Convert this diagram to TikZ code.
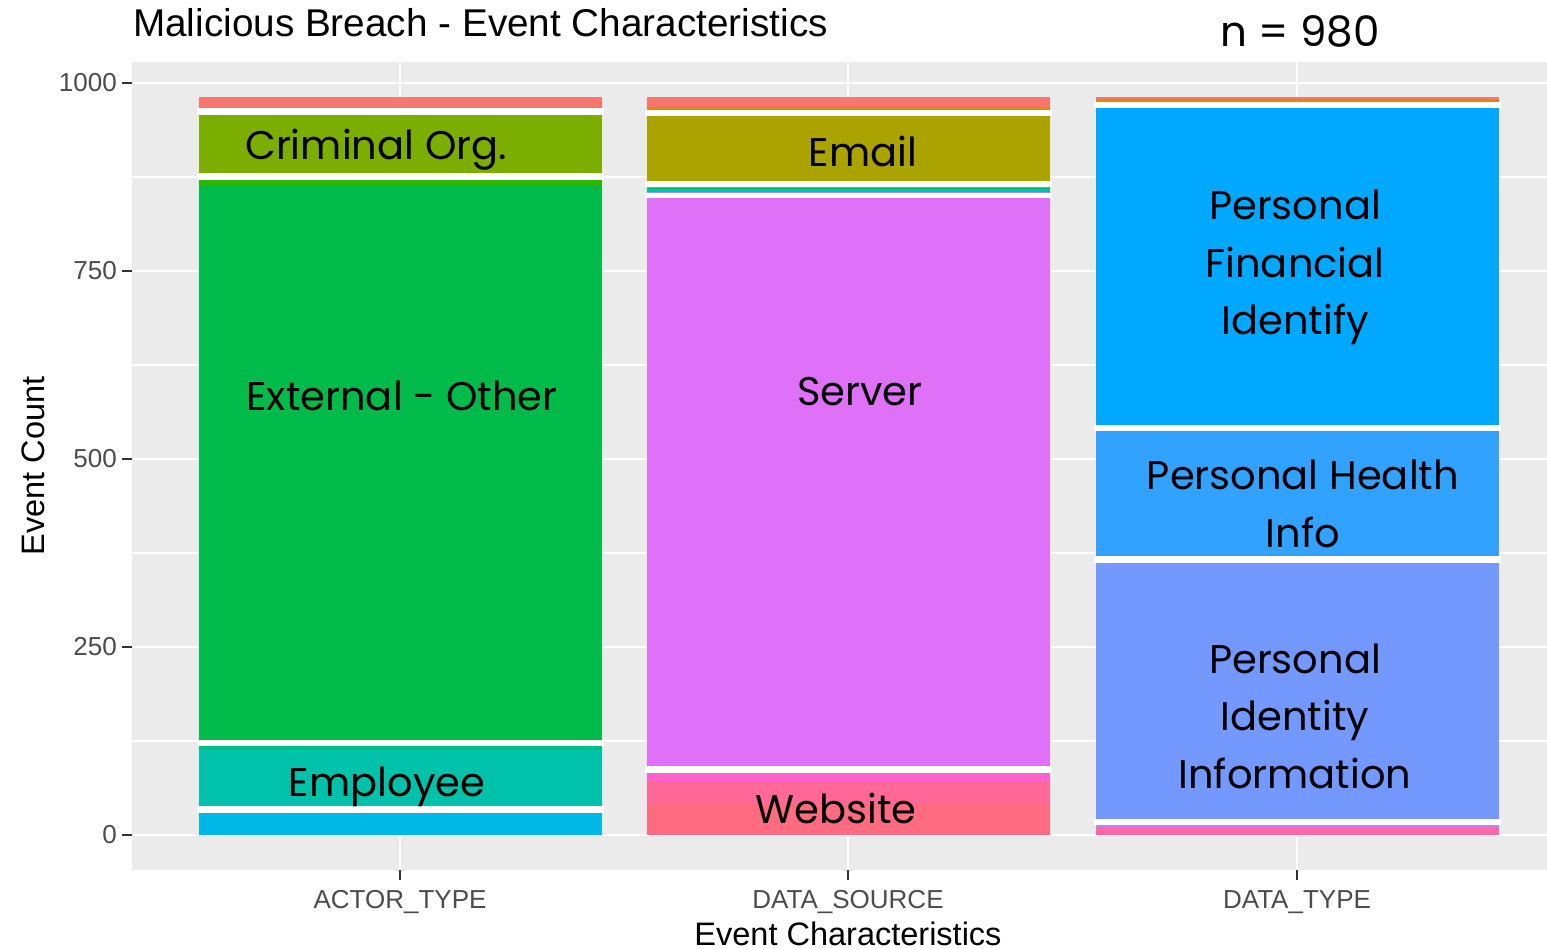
\documentclass[tikz,border=0pt]{standalone}
\usepackage{fontspec}
\setmainfont{Liberation Sans}
\newfontfamily\labfont{Poppins}
\begin{document}
\begin{tikzpicture}[x=1pt,y=-1pt,
  axtext/.style={text=black!70,font=\fontsize{26}{30}\selectfont,inner sep=0pt},
  bartext/.style={text=black,font=\labfont\fontsize{40}{57.5}\selectfont,align=center,inner sep=0pt},
  sep/.style={fill=white},
  majorgrid/.style={draw=white,line width=2.2pt},
  minorgrid/.style={draw=white,line width=1.1pt},
  tickmark/.style={draw=black!80,line width=1.6pt}]
\definecolor{panelbg}{HTML}{EBEBEB}
\useasboundingbox (0,0) rectangle (1547,949);
\fill[white] (0,0) rectangle (1547,949);
% panel
\fill[panelbg] (132,62) rectangle (1547,870);
\foreach \yy in {177,365,553,741} \draw[minorgrid] (132,\yy) -- (1547,\yy);
\foreach \yy in {83,271,459,647,835} \draw[majorgrid] (132,\yy) -- (1547,\yy);
\foreach \xx in {400,848,1297} \draw[majorgrid] (\xx,62) -- (\xx,870);
% ---- ACTOR_TYPE bar
\def\xa{198.5}\def\xb{601.5}
\fill[fill={rgb,255:red,248;green,118;blue,109}] (\xa,97) rectangle (\xb,108.5);
\fill[fill={rgb,255:red,124;green,174;blue,0}] (\xa,115) rectangle (\xb,173.5);
\fill[fill={rgb,255:red,45;green,182;blue,0}] (\xa,180) rectangle (\xb,186);
\fill[fill={rgb,255:red,0;green,186;blue,74}] (\xa,186) rectangle (\xb,740);
\fill[fill={rgb,255:red,0;green,190;blue,133}] (\xa,746) rectangle (\xb,750);
\fill[fill={rgb,255:red,0;green,193;blue,170}] (\xa,750) rectangle (\xb,806);
\fill[fill={rgb,255:red,0;green,184;blue,231}] (\xa,812.5) rectangle (\xb,834.5);
\foreach \ya/\yb in {108.5/115,173.5/180,740/746,806/812.5}
  \fill[sep] (\xa-2,\ya) rectangle (\xb+2,\yb);
% ---- DATA_SOURCE bar
\def\xa{647}\def\xb{1050}
\fill[fill={rgb,255:red,248;green,118;blue,109}] (\xa,97) rectangle (\xb,106.7);
\fill[fill={rgb,255:red,216;green,144;blue,0}] (\xa,106.7) rectangle (\xb,110);
\fill[fill={rgb,255:red,171;green,163;blue,0}] (\xa,116) rectangle (\xb,181);
\fill[fill={rgb,255:red,176;green,165;blue,0}] (\xa,187) rectangle (\xb,188.2);
\fill[fill={rgb,255:red,0;green,188;blue,86}] (\xa,188.2) rectangle (\xb,189.5);
\fill[fill={rgb,255:red,0;green,191;blue,196}] (\xa,189.5) rectangle (\xb,190.8);
\fill[fill={rgb,255:red,0;green,176;blue,246}] (\xa,190.8) rectangle (\xb,192);
\fill[fill={rgb,255:red,149;green,144;blue,255}] (\xa,192) rectangle (\xb,193.3);
\fill[fill={rgb,255:red,223;green,112;blue,248}] (\xa,198.3) rectangle (\xb,766);
\fill[fill={rgb,255:red,255;green,98;blue,205}] (\xa,772.7) rectangle (\xb,781);
\fill[fill={rgb,255:red,255;green,104;blue,153}] (\xa,781) rectangle (\xb,803);
\fill[fill={rgb,255:red,255;green,108;blue,130}] (\xa,803) rectangle (\xb,834.5);
\foreach \ya/\yb in {110/116,181/187,193.3/198.3,766/772.7}
  \fill[sep] (\xa-2,\ya) rectangle (\xb+2,\yb);
% ---- DATA_TYPE bar
\def\xa{1095.5}\def\xb{1498.5}
\fill[fill={rgb,255:red,248;green,118;blue,109}] (\xa,97) rectangle (\xb,99);
\fill[fill={rgb,255:red,227;green,137;blue,0}] (\xa,99) rectangle (\xb,101.7);
\fill[fill={rgb,255:red,0;green,169;blue,255}] (\xa,107.7) rectangle (\xb,425);
\fill[fill={rgb,255:red,49;green,162;blue,255}] (\xa,431) rectangle (\xb,556);
\fill[fill={rgb,255:red,115;green,153;blue,255}] (\xa,562.5) rectangle (\xb,819);
\fill[fill={rgb,255:red,199;green,124;blue,255}] (\xa,825) rectangle (\xb,826.7);
\fill[fill={rgb,255:red,255;green,103;blue,164}] (\xa,826.7) rectangle (\xb,834.5);
\foreach \ya/\yb in {101.7/107.7,425/431,556/562.5,819/825}
  \fill[sep] (\xa-2,\ya) rectangle (\xb+2,\yb);
% ---- bar labels (base = baseline of last line)
\node[bartext,anchor=base] (lcrim) at (376,160) {Criminal Org.};
\node[bartext,anchor=base] (lext) at (402,410) {External - Other};
\node[bartext,anchor=base] (lemp) at (387,796) {Employee};
\node[bartext,anchor=base] (lemail) at (863,167) {Email};
\node[bartext,anchor=base] (lserv) at (860,406) {Server};
\node[bartext,anchor=base] (lweb) at (836,823) {Website};
\node[bartext,anchor=base] (lpfi) at (1295,335) {Personal\\Financial\\Identify};
\node[bartext,anchor=base] (lphi) at (1303,547) {Personal Health\\Info};
\node[bartext,anchor=base] (lpii) at (1295,788) {Personal\\Identity\\Information};
% ---- axes
\foreach \yy/\lab in {83/1000,271/750,459/500,647/250,835/0} {
  \draw[tickmark] (122,\yy) -- (132,\yy);
  \node[axtext,anchor=east] at (117,\yy) {\lab};
}
\foreach \xx/\lab in {400/ACTOR\_TYPE,848/DATA\_SOURCE,1297/DATA\_TYPE} {
  \draw[tickmark] (\xx,870) -- (\xx,880);
  \node[axtext,anchor=base] at (\xx,908) {\lab};
}
\node[inner sep=0pt,anchor=base,font=\fontsize{32.5}{36}\selectfont] (xtitle) at (848,945) {Event Characteristics};
\node[inner sep=0pt,anchor=base,rotate=90,font=\fontsize{32.5}{36}\selectfont] (ytitle) at (44,466) {Event Count};
\node[inner sep=0pt,anchor=base west,font=\fontsize{38.7}{42}\selectfont] (title) at (133,37) {Malicious Breach - Event Characteristics};
\node[inner sep=0pt,anchor=base,font=\labfont\fontsize{42}{46}\selectfont] (ncount) at (1300,47) {n = 980};
\end{tikzpicture}
\end{document}
